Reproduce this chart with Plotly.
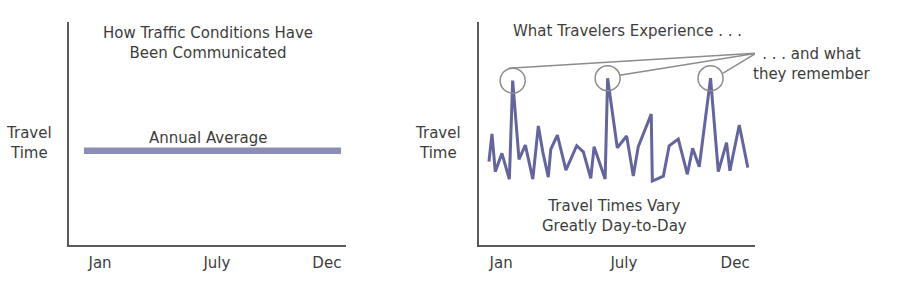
import plotly.graph_objects as go

W, H = 900, 287

# ---- data ----
months = ["Jan", "July", "Dec"]
left_tick_pos = [11.2, 53.4, 93.1]
right_tick_pos = [8.0, 52.5, 92.8]

avg_x = [5.4, 98.2]
avg_y = [42.3, 42.3]

daily_x = [3.6, 4.7, 5.9, 8.3, 11.0, 12.2, 14.5, 16.8, 19.5, 21.5, 23.1, 25.1, 26.0,
           28.4, 31.5, 35.4, 37.8, 40.5, 41.7, 45.7, 46.6, 50.1, 53.5, 55.9, 57.7,
           62.4, 62.8, 66.8, 68.9, 72.2, 75.5, 77.4, 79.8, 83.9, 86.7, 89.7, 90.9,
           94.3, 97.4]
daily_y = [37.4, 49.8, 32.9, 41.1, 29.5, 73.7, 38.4, 44.8, 29.5, 53.4, 41.8, 30.4, 42.9,
           49.3, 33.6, 44.5, 41.8, 29.9, 44.1, 29.6, 74.8, 43.6, 48.9, 30.9, 44.1,
           58.7, 28.7, 30.9, 44.5, 47.5, 31.7, 43.4, 35.1, 74.8, 32.9, 45.9, 33.3,
           53.8, 34.7]
peak_idx = [5, 20, 33]
converge = (100.4, 86.0)  # right-axis data coords where callout lines meet

# ---- layout geometry ----
lx0, lx1 = 69, 346
rx0, rx1 = 479, 755
ytop, ybot = 22, 245
ydom = [(H - ybot) / H, (H - ytop) / H]

TEXT = "#3d3d3d"
FONT = "DejaVu Sans"
FS = 15
LINE_BAND = "#8b8db5"
LINE_DAILY = "#63659c"
GRAY = "#8c8c8c"

fig = go.Figure()
fig.add_trace(go.Scatter(x=avg_x, y=avg_y, mode="lines",
                         line=dict(color=LINE_BAND, width=6.5),
                         xaxis="x", yaxis="y", hoverinfo="skip"))
fig.add_trace(go.Scatter(x=daily_x, y=daily_y, mode="lines",
                         line=dict(color=LINE_DAILY, width=3),
                         xaxis="x2", yaxis="y2", hoverinfo="skip"))

axis_common = dict(range=[0, 100], showgrid=False, zeroline=False, showline=True,
                   linecolor="#5a5a5a", linewidth=1.5, fixedrange=True)
fig.update_layout(
    width=W, height=H, margin=dict(l=0, r=0, t=0, b=0),
    paper_bgcolor="white", plot_bgcolor="white", showlegend=False,
    font=dict(family=FONT, size=FS, color=TEXT),
    xaxis=dict(domain=[lx0 / W, lx1 / W], anchor="y", tickvals=left_tick_pos,
               ticktext=months, ticks="", ticklabelstandoff=3, **axis_common),
    yaxis=dict(domain=ydom, anchor="x", showticklabels=False, ticks="", **axis_common),
    xaxis2=dict(domain=[rx0 / W, rx1 / W], anchor="y2", tickvals=right_tick_pos,
                ticktext=months, ticks="", ticklabelstandoff=3, **axis_common),
    yaxis2=dict(domain=ydom, anchor="x2", showticklabels=False, ticks="", **axis_common),
)

# pixel scale of right panel
sx = (rx1 - rx0) / 100.0
sy = (ybot - ytop) / 100.0

# circles around the peaks (pixel-sized, anchored on peak points)
R = 12.5
for i in peak_idx:
    fig.add_shape(type="circle", xref="x2", yref="y2",
                  xsizemode="pixel", ysizemode="pixel",
                  xanchor=daily_x[i], yanchor=daily_y[i],
                  x0=-R, x1=R, y0=-R, y1=R,
                  line=dict(color=GRAY, width=1.5))

# callout lines: start offsets (pixels from peak: right, up)
start_offsets = [(-4, 12.5), (12, 3), (12.5, 5)]
for i, (dx, dy) in zip(peak_idx, start_offsets):
    fig.add_shape(type="line", xref="x2", yref="y2",
                  x0=daily_x[i] + dx / sx, y0=daily_y[i] + dy / sy,
                  x1=converge[0], y1=converge[1],
                  line=dict(color=GRAY, width=1.5))

def txt(s, x, y, anchor="center"):
    fig.add_annotation(text=s, xref="paper", yref="paper", x=x / W, y=1 - y / H,
                       xanchor=anchor, yanchor="middle", showarrow=False,
                       font=dict(family=FONT, size=FS, color=TEXT))

txt("How Traffic Conditions Have<br>Been Communicated", 208, 43.5)
txt("Annual Average", 208, 138)
txt("Travel<br>Time", 54, 143, "right")
txt("Travel<br>Time", 463, 143, "right")
txt("What Travelers Experience . . .", 511, 31, "left")
txt(". . . and what<br>they remember", 873, 64, "right")
txt("Travel Times Vary<br>Greatly Day-to-Day", 614, 216)

fig.write_html("out.html")
